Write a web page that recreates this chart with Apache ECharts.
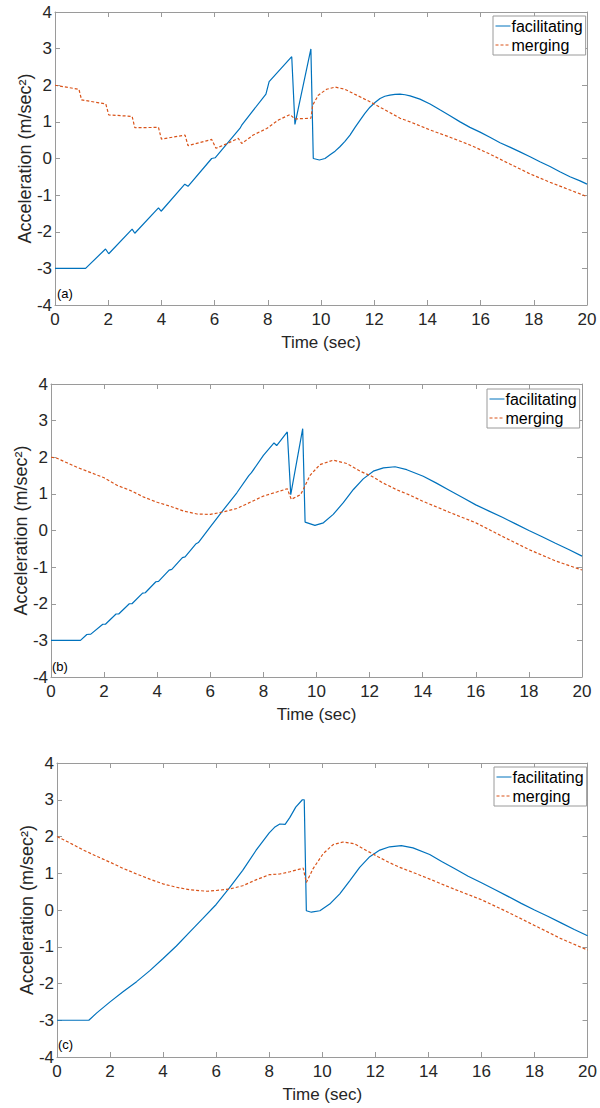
<!DOCTYPE html>
<html>
<head>
<meta charset="utf-8">
<script src="https://cdn.jsdelivr.net/npm/echarts@6/dist/echarts.min.js"></script>
<style>
html,body{margin:0;padding:0;background:#fff;}
#chart{width:600px;height:1108px;}
</style>
</head>
<body>
<div id="chart"></div>
<script>
// ---- data (time in sec, acceleration in m/sec^2) ----
const xTicks = [0, 2, 4, 6, 8, 10, 12, 14, 16, 18, 20];
const yTicks = [-4, -3, -2, -1, 0, 1, 2, 3, 4];
const seriesNames = ['facilitating', 'merging'];
const panelLabels = ['(a)', '(b)', '(c)'];

const facilitatingA = [[0,-3],[1.15,-3],[1.9,-2.47],[2.02,-2.6],[2.9,-1.93],[3.0,-2.04],[3.89,-1.35],[3.99,-1.44],[4.88,-0.70],[5.0,-0.76],[5.89,0.0],[6.02,0.02],[6.95,0.82],[7.02,0.91],[7.93,1.76],[8.05,2.1],[8.9,2.78],[9.02,0.93],[9.62,2.99],[9.71,0.0],[9.94,-0.04],[10.15,0.0],[10.34,0.1],[10.53,0.2],[10.71,0.32],[10.9,0.47],[11.09,0.64],[11.28,0.85],[11.47,1.05],[11.65,1.23],[11.84,1.4],[12.03,1.53],[12.22,1.64],[12.4,1.7],[12.59,1.73],[12.78,1.75],[12.97,1.76],[13.16,1.74],[13.35,1.71],[13.72,1.62],[14.1,1.49],[14.47,1.33],[14.85,1.17],[15.23,1.0],[15.6,0.85],[15.98,0.72],[16.35,0.58],[16.73,0.43],[17.1,0.31],[17.48,0.18],[17.86,0.05],[18.23,-0.09],[18.61,-0.22],[18.98,-0.36],[19.36,-0.5],[19.74,-0.61],[20,-0.7]];
const mergingA = [[0,2.0],[0.9,1.89],[1.0,1.6],[1.91,1.49],[2.02,1.19],[2.9,1.15],[3.0,0.84],[3.89,0.85],[4.0,0.53],[4.89,0.64],[5.0,0.35],[5.89,0.52],[6.05,0.28],[6.45,0.4],[6.89,0.55],[7.02,0.41],[7.45,0.64],[7.96,0.82],[8.4,1.05],[8.83,1.2],[9.02,1.08],[9.62,1.1],[9.69,1.46],[9.9,1.73],[10.21,1.89],[10.53,1.95],[10.9,1.89],[11.34,1.73],[11.84,1.55],[12.22,1.4],[12.6,1.25],[12.97,1.1],[13.35,1.0],[14.1,0.78],[14.85,0.58],[15.6,0.37],[16.35,0.12],[17.1,-0.15],[17.86,-0.42],[18.61,-0.65],[19.36,-0.86],[20,-1.04]];

const facilitatingB = [[0,-3],[1.11,-3],[1.35,-2.84],[1.5,-2.83],[1.95,-2.56],[2.05,-2.56],[2.45,-2.28],[2.55,-2.28],[2.95,-2.0],[3.05,-2.0],[3.45,-1.71],[3.55,-1.7],[3.95,-1.4],[4.05,-1.39],[4.45,-1.08],[4.55,-1.06],[4.95,-0.74],[5.05,-0.72],[5.45,-0.37],[5.55,-0.33],[6.0,0.1],[6.5,0.57],[7.0,1.03],[7.45,1.5],[7.55,1.58],[8.0,2.05],[8.4,2.39],[8.5,2.32],[8.9,2.69],[9.03,0.98],[9.48,2.78],[9.57,0.23],[9.94,0.14],[10.26,0.21],[10.63,0.44],[11.01,0.76],[11.39,1.12],[11.76,1.41],[12.14,1.62],[12.52,1.71],[12.96,1.74],[13.4,1.66],[14.02,1.48],[14.5,1.3],[15.0,1.1],[15.5,0.9],[16.0,0.7],[16.5,0.53],[17,0.36],[17.5,0.18],[18,0.0],[18.5,-0.17],[19,-0.35],[19.5,-0.52],[20,-0.7]];
const mergingB = [[0,2.0],[0.2,1.98],[0.6,1.85],[1.0,1.72],[1.36,1.62],[1.5,1.58],[2.0,1.44],[2.5,1.23],[3.0,1.09],[3.5,0.91],[4.0,0.77],[4.5,0.66],[5.0,0.53],[5.5,0.45],[6.0,0.44],[6.5,0.51],[7.0,0.6],[7.5,0.77],[8.0,0.94],[8.5,1.05],[8.9,1.14],[9.05,0.85],[9.4,0.98],[9.5,1.12],[9.75,1.5],[10.13,1.8],[10.63,1.92],[11.14,1.83],[11.64,1.62],[12.08,1.48],[12.5,1.3],[13.0,1.12],[13.5,0.97],[14.0,0.8],[15,0.5],[16,0.21],[17,-0.16],[18,-0.52],[19,-0.83],[20,-1.08]];

const facilitatingC = [[0,-3],[1.2,-3],[1.5,-2.8],[2.0,-2.5],[2.5,-2.22],[3.0,-1.95],[3.5,-1.65],[4.0,-1.32],[4.5,-0.98],[5.0,-0.6],[5.5,-0.23],[6.0,0.15],[6.5,0.6],[7.0,1.08],[7.5,1.62],[8.0,2.1],[8.2,2.25],[8.4,2.34],[8.6,2.33],[8.78,2.52],[9.0,2.8],[9.25,3.0],[9.32,3.0],[9.4,-0.02],[9.59,-0.06],[9.91,-0.02],[10.28,0.16],[10.66,0.44],[11.04,0.8],[11.41,1.16],[11.79,1.45],[12.17,1.63],[12.54,1.72],[12.98,1.75],[13.42,1.69],[14.05,1.51],[14.5,1.32],[15,1.12],[15.5,0.92],[16,0.74],[16.5,0.56],[17,0.37],[17.5,0.18],[18,0.0],[18.5,-0.17],[19,-0.35],[19.5,-0.53],[20,-0.7]];
const mergingC = [[0,2.0],[0.5,1.82],[1.0,1.63],[1.5,1.46],[2.0,1.3],[2.5,1.13],[3.0,0.98],[3.5,0.84],[4.0,0.71],[4.5,0.62],[5.0,0.55],[5.65,0.51],[6.0,0.53],[6.5,0.57],[7.0,0.66],[7.5,0.82],[8.0,0.96],[8.4,0.98],[8.78,1.04],[9.28,1.14],[9.4,0.75],[9.65,1.12],[10.03,1.53],[10.41,1.78],[10.78,1.85],[11.22,1.8],[11.66,1.62],[12.1,1.45],[12.5,1.3],[12.92,1.16],[13.5,1.0],[14.05,0.84],[15,0.56],[16,0.28],[17,-0.06],[18,-0.42],[19,-0.78],[20,-1.09]];

// ---- layout / styling ----
const FONT = '"Liberation Sans", Arial, Helvetica, sans-serif';
const BLUE = '#0072BD';
const ORANGE = '#D95319';
const AXIS = '#9a9a9a';
const TEXT = '#262626';

const grids = [
  {left: 55, top: 12, width: 532, height: 293},
  {left: 51, top: 384, width: 531, height: 293},
  {left: 57, top: 763, width: 531, height: 294}
];
const legendPos = [{left: 493, top: 16}, {left: 487, top: 389}, {left: 494, top: 767}];
const labelPos = [{left: 57, top: 287}, {left: 52, top: 660}, {left: 58, top: 1038}];
const panelData = [[facilitatingA, mergingA], [facilitatingB, mergingB], [facilitatingC, mergingC]];

const xMin = xTicks[0], xMax = xTicks[xTicks.length - 1], xInt = xTicks[1] - xTicks[0];
const yMin = yTicks[0], yMax = yTicks[yTicks.length - 1], yInt = yTicks[1] - yTicks[0];

const xAxes = [], yAxes = [], series = [], legends = [], titles = [];
grids.forEach((g, i) => {
  const common = {
    type: 'value', gridIndex: i, splitLine: {show: false},
    axisLine: {show: true, onZero: false, lineStyle: {color: AXIS, width: 1}},
    axisTick: {show: true, inside: true, length: 5, lineStyle: {color: AXIS, width: 1}}
  };
  xAxes.push(Object.assign({}, common, {
    position: 'bottom', min: xMin, max: xMax, interval: xInt,
    axisLabel: {fontSize: 17, color: TEXT, margin: 6, fontFamily: FONT},
    name: 'Time (sec)', nameLocation: 'middle', nameGap: 29, nameMoveOverlap: false,
    nameTextStyle: {fontSize: 17, color: TEXT, fontFamily: FONT}
  }));
  xAxes.push(Object.assign({}, common, {
    position: 'top', min: xMin, max: xMax, interval: xInt, axisLabel: {show: false}
  }));
  yAxes.push(Object.assign({}, common, {
    position: 'left', min: yMin, max: yMax, interval: yInt,
    axisLabel: {fontSize: 17, color: TEXT, margin: 3, fontFamily: FONT},
    name: 'Acceleration (m/sec²)', nameLocation: 'middle', nameGap: 21, nameRotate: 90,
    nameMoveOverlap: false,
    nameTextStyle: {fontSize: 18, color: TEXT, fontFamily: FONT}
  }));
  yAxes.push(Object.assign({}, common, {
    position: 'right', min: yMin, max: yMax, interval: yInt, axisLabel: {show: false}
  }));
  const [fac, mer] = panelData[i];
  series.push({
    name: seriesNames[0], type: 'line', xAxisIndex: 2 * i, yAxisIndex: 2 * i,
    data: fac, showSymbol: false, symbol: 'none', smooth: false,
    lineStyle: {color: BLUE, width: 1.2}, itemStyle: {color: BLUE}, z: 2
  });
  series.push({
    name: seriesNames[1], type: 'line', xAxisIndex: 2 * i, yAxisIndex: 2 * i,
    data: mer, showSymbol: false, symbol: 'none', smooth: false,
    lineStyle: {color: ORANGE, width: 1.2, type: [3, 2]}, itemStyle: {color: ORANGE}, z: 3
  });
  legends.push({
    data: seriesNames, orient: 'vertical', left: legendPos[i].left, top: legendPos[i].top,
    backgroundColor: '#fff', borderColor: AXIS, borderWidth: 1, borderRadius: 0,
    padding: [2, 3, 2, 2], itemGap: 3, itemWidth: 15, itemHeight: 14,
    itemStyle: {color: 'rgba(0,0,0,0)', borderColor: 'rgba(0,0,0,0)', borderWidth: 0},
    lineStyle: {width: 1},
    textStyle: {fontSize: 16, color: '#000', fontFamily: FONT, padding: [0, 0, 0, -4]},
    selectedMode: false
  });
  titles.push({
    text: panelLabels[i], left: labelPos[i].left, top: labelPos[i].top, padding: 0,
    textStyle: {fontSize: 13, fontWeight: 'normal', color: '#000', fontFamily: FONT}
  });
});

const chart = echarts.init(document.getElementById('chart'), null, {renderer: 'svg', width: 600, height: 1108});
chart.setOption({
  animation: false,
  backgroundColor: '#fff',
  textStyle: {fontFamily: FONT},
  title: titles,
  legend: legends,
  grid: grids,
  xAxis: xAxes,
  yAxis: yAxes,
  series: series
});
</script>
</body>
</html>
